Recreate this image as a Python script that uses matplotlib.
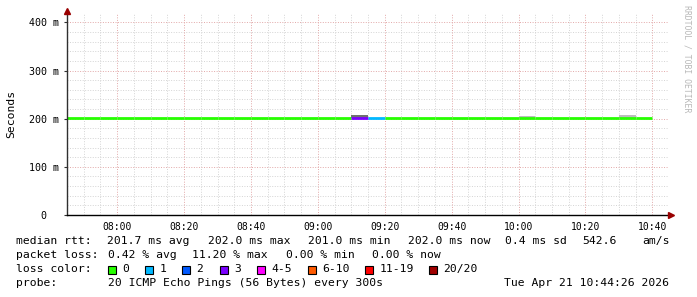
import matplotlib
matplotlib.use("Agg")
import matplotlib.pyplot as plt
from matplotlib.patches import Rectangle

# ---------------- data ----------------
seg_times = ["07:45", "07:50", "07:55", "08:00", "08:05", "08:10", "08:15",
             "08:20", "08:25", "08:30", "08:35", "08:40", "08:45", "08:50",
             "08:55", "09:00", "09:05", "09:10", "09:15", "09:20", "09:25",
             "09:30", "09:35", "09:40", "09:45", "09:50", "09:55", "10:00",
             "10:05", "10:10", "10:15", "10:20", "10:25", "10:30", "10:35"]
median_ms = [202.0, 202.0, 202.0, 202.0, 202.0, 202.0, 202.0,
             201.2, 201.2, 202.0, 202.0, 201.3, 201.2, 202.0,
             202.0, 202.0, 202.0, 201.8, 201.6, 201.0, 202.0,
             201.2, 201.4, 201.3, 201.5, 202.0, 202.0, 201.9,
             202.0, 202.0, 201.2, 202.0, 201.2, 202.0, 202.0]
loss_count = [0, 0, 0, 0, 0, 0, 0,
              0, 0, 0, 0, 0, 0, 0,
              0, 0, 0, 3, 1, 0, 0,
              0, 0, 0, 0, 0, 0, 0,
              0, 0, 0, 0, 0, 0, 0]
smoke_light_top = [0, 0, 0, 0, 0, 0, 0,
                   0, 0, 0, 0, 0, 0, 0,
                   0, 0, 0, 208.4, 0, 0, 0,
                   0, 0, 0, 0, 0, 0, 205.8,
                   0, 0, 0, 0, 0, 207.6, 0]
smoke_dark_top = [0, 0, 0, 0, 0, 0, 0,
                  0, 0, 0, 0, 0, 0, 0,
                  0, 0, 0, 206.8, 0, 0, 0,
                  0, 0, 0, 0, 0, 0, 0,
                  0, 0, 0, 0, 0, 0, 0]
step_min = 5

loss_labels = ["0", "1", "2", "3", "4-5", "6-10", "11-19", "20/20"]
loss_colors = ["#26ff00", "#00b8ff", "#0059ff", "#7a00ff", "#ff00ff",
               "#ff5a00", "#ff0000", "#a00000"]
loss_upper = [0, 1, 2, 3, 5, 10, 19, 20]

y_ticks = [0, 100, 200, 300, 400]
x_tick_labels = ["08:00", "08:20", "08:40", "09:00", "09:20", "09:40",
                 "10:00", "10:20", "10:40"]
x_start, x_end = "07:45", "10:45"

stats_lines = [
    ("median rtt:", [(107, "201.7 ms avg"), (207.5, "202.0 ms max"),
                     (308, "201.0 ms min"), (408, "202.0 ms now"),
                     (505, "0.4 ms sd"), (582, "542.6"), (642.5, "am/s")]),
    ("packet loss:", [(107.5, "0.42 % avg"), (192.5, "11.20 % max"),
                      (286, "0.00 % min"), (371.5, "0.00 % now")]),
]
probe_text = "20 ICMP Echo Pings (56 Bytes) every 300s"
date_text = "Tue Apr 21 10:44:26 2026"


def tmin(s):
    h, m = s.split(":")
    return int(h) * 60 + int(m)


def color_for(loss):
    for up, c in zip(loss_upper, loss_colors):
        if loss <= up:
            return c
    return loss_colors[-1]


W, H = 697, 297


def fx(x):
    return x / W


def fy(y):
    return 1 - y / H


fig = plt.figure(figsize=(W / 100, H / 100), dpi=100)
fig.patch.set_facecolor("white")
L, R, T, B = 67, 669, 13, 215
ax = fig.add_axes([L / W, 1 - B / H, (R - L) / W, (B - T) / H])
ax.set_facecolor("white")
mono = "DejaVu Sans Mono"

x0, x1 = tmin(x_start), tmin(x_end)
ax.set_xlim(x0, x1)
ax.set_ylim(0, 419.7)

# grid
dot = (0, (1, 1.6))
for m in range(x0, x1 + 1, 5):
    if m % 20 == 0:
        continue
    ax.axvline(m, color="#d4d4d4", lw=0.7, ls=dot, zorder=0)
for v in range(20, 420, 20):
    if v % 100 == 0:
        continue
    ax.axhline(v, color="#d4d4d4", lw=0.7, ls=dot, zorder=0)
for s in x_tick_labels:
    ax.axvline(tmin(s), color="#e2a8a8", lw=0.7, ls=dot, zorder=0.5)
for v in y_ticks[1:]:
    ax.axhline(v, color="#e2a8a8", lw=0.7, ls=dot, zorder=0.5)

# smoke and median line
for t, med, lt, dk, ls in zip(seg_times, median_ms, smoke_light_top,
                              smoke_dark_top, loss_count):
    xs = tmin(t)
    if lt > med:
        ax.add_patch(Rectangle((xs, med), step_min, lt - med,
                               color="#bcbcbc", lw=0, zorder=2))
    if dk > med:
        ax.add_patch(Rectangle((xs, med), step_min, dk - med,
                               color="#707070", lw=0, zorder=2.1))
    ax.hlines(med, xs, xs + step_min, color=color_for(ls), lw=2.0, zorder=3)

# axes styling
for sp in ["top", "right"]:
    ax.spines[sp].set_visible(False)
ax.spines["left"].set_color("#303030")
ax.spines["bottom"].set_color("#000000")
ax.spines["left"].set_linewidth(1.0)
ax.spines["bottom"].set_linewidth(1.0)
ax.spines["bottom"].set_zorder(4)
ax.spines["left"].set_zorder(4)

ax.set_yticks(y_ticks)
ax.set_yticklabels(["0\u00a0\u00a0"] + [f"{v} m" for v in y_ticks[1:]],
                   family=mono, fontsize=7.2)
ax.set_xticks([tmin(s) for s in x_tick_labels])
ax.set_xticklabels(x_tick_labels, family=mono, fontsize=7.0)
ax.tick_params(axis="y", length=2, width=0.8, color="#303030", pad=4)
ax.tick_params(axis="x", length=0, pad=5)

# arrows at the axis ends (display pixel coords, origin bottom-left)
fig.lines.append(plt.Line2D([R + 2], [H - B], marker=">", ms=4.2,
                            color="#990000", transform=None))
fig.lines.append(plt.Line2D([L], [H - T + 2], marker="^", ms=4.2,
                            color="#990000", transform=None))

fig.text(fx(11), fy(114), "Seconds", rotation=90, ha="center", va="center",
         family=mono, fontsize=8.2, color="#000000")
fig.text(fx(687), fy(5), "RRDTOOL / TOBI OETIKER", rotation=270,
         ha="center", va="top", family=mono, fontsize=5.9, color="#b8b8b8")

# legend lines
fs = 8.2
ys = [241, 255, 269, 283]
for (lab, items), y in zip(stats_lines, ys[:2]):
    fig.text(fx(16), fy(y), lab, ha="left", va="center", family=mono, fontsize=fs)
    for x, s in items:
        fig.text(fx(x), fy(y), s, ha="left", va="center", family=mono, fontsize=fs)

fig.text(fx(16), fy(ys[2]), "loss color:", ha="left", va="center",
         family=mono, fontsize=fs)
box_x = [108, 145, 182, 219.5, 257, 307.5, 365, 429]
for bx, lab, c in zip(box_x, loss_labels, loss_colors):
    fig.patches.append(Rectangle((fx(bx), fy(ys[2] + 4.5)), 8 / W, 8 / H,
                                 transform=fig.transFigure, facecolor=c,
                                 edgecolor="black", lw=0.8))
    fig.text(fx(bx + 14.5), fy(ys[2]), lab, ha="left", va="center",
             family=mono, fontsize=fs)

fig.text(fx(16), fy(ys[3]), "probe:", ha="left", va="center", family=mono, fontsize=fs)
fig.text(fx(107.5), fy(ys[3]), probe_text, ha="left", va="center",
         family=mono, fontsize=fs)
fig.text(fx(669), fy(ys[3]), date_text, ha="right", va="center",
         family=mono, fontsize=fs)

fig.savefig("out.png", dpi=100, facecolor="white")
